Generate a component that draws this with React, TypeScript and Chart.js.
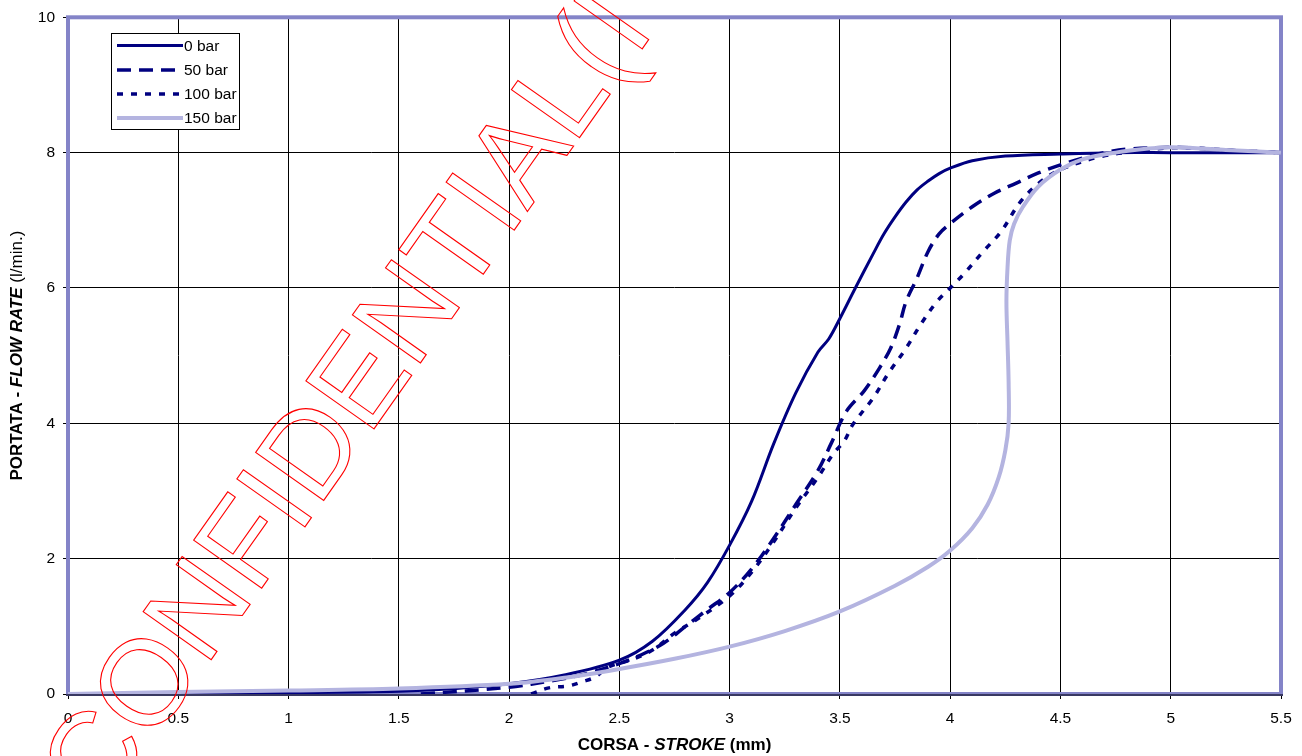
import React, { useEffect, useRef } from "react";
import { Chart, registerables } from "chart.js";

Chart.register(...registerables);

// ---- data ----
const seriesLabels = ["0 bar", "50 bar", "100 bar", "150 bar"];

const x0 = [0.3, 0.5, 1.0, 1.5, 1.75, 2.0, 2.25, 2.5, 2.65, 2.8, 2.9, 3.0, 3.1, 3.2, 3.3, 3.4, 3.45, 3.5, 3.57, 3.65, 3.7, 3.75, 3.8, 3.85, 3.9, 3.95, 4.0, 4.1, 4.25, 4.5, 4.75, 5.0, 5.25, 5.5];
const y0 = [0, 0.01, 0.02, 0.04, 0.08, 0.15, 0.28, 0.5, 0.78, 1.25, 1.65, 2.2, 2.85, 3.7, 4.45, 5.05, 5.25, 5.55, 6.0, 6.5, 6.8, 7.05, 7.27, 7.45, 7.58, 7.69, 7.77, 7.88, 7.95, 7.98, 8.0, 8.0, 8.0, 8.0];

const x50 = [1.6, 2.0, 2.2, 2.35, 2.5, 2.6, 2.7, 2.8, 2.9, 3.0, 3.1, 3.2, 3.3, 3.4, 3.46, 3.53, 3.61, 3.68, 3.73, 3.77, 3.8, 3.85, 3.9, 3.95, 4.0, 4.1, 4.2, 4.3, 4.4, 4.5, 4.6, 4.7, 4.8, 5.0, 5.1, 5.25, 5.5];
const y50 = [0, 0.1, 0.2, 0.3, 0.45, 0.58, 0.75, 1.0, 1.25, 1.5, 1.85, 2.3, 2.8, 3.3, 3.7, 4.18, 4.48, 4.82, 5.11, 5.46, 5.8, 6.15, 6.54, 6.8, 6.95, 7.2, 7.4, 7.55, 7.7, 7.82, 7.92, 8.0, 8.05, 8.08, 8.07, 8.04, 8.0];

const x100 = [2.1, 2.18, 2.27, 2.33, 2.39, 2.45, 2.55, 2.65, 2.75, 2.85, 3.0, 3.1, 3.2, 3.3, 3.4, 3.47, 3.52, 3.56, 3.65, 3.72, 3.8, 3.87, 3.94, 4.0, 4.06, 4.15, 4.23, 4.32, 4.41, 4.5, 4.68, 4.85, 5.0, 5.15, 5.3, 5.5];
const y100 = [0, 0.09, 0.12, 0.18, 0.25, 0.4, 0.5, 0.65, 0.9, 1.1, 1.45, 1.8, 2.25, 2.75, 3.2, 3.55, 3.74, 3.99, 4.37, 4.74, 5.11, 5.48, 5.8, 6.0, 6.2, 6.54, 6.83, 7.28, 7.57, 7.75, 7.94, 8.02, 8.07, 8.06, 8.03, 8.0];

const x150 = [0, 0.5, 1.0, 1.5, 2.0, 2.25, 2.5, 2.75, 3.0, 3.25, 3.5, 3.75, 3.9, 4.0, 4.1, 4.17, 4.22, 4.25, 4.265, 4.265, 4.26, 4.255, 4.26, 4.27, 4.29, 4.33, 4.4, 4.5, 4.6, 4.75, 4.9, 5.0, 5.1, 5.25, 5.5];
const y150 = [0, 0.03, 0.05, 0.08, 0.15, 0.24, 0.37, 0.52, 0.7, 0.93, 1.22, 1.6, 1.88, 2.12, 2.45, 2.8, 3.2, 3.6, 4.0, 4.6, 5.2, 5.8, 6.3, 6.7, 6.95, 7.2, 7.5, 7.75, 7.9, 8.0, 8.06, 8.08, 8.07, 8.04, 8.0];

const watermarkText = "CONFIDENTIAL(I";

const NAVY = "#000080";
const LAV = "#b4b4e0";
const BORDER = "#8484c8";
const FONT = "'Liberation Sans', Arial, sans-serif";

const pts = (xs: number[], ys: number[]) => xs.map((x, i) => ({ x, y: ys[i] }));

const styles = [
  { color: NAVY, width: 3, dash: [] as number[] },
  { color: NAVY, width: 3.5, dash: [14, 8] },
  { color: NAVY, width: 3.5, dash: [6, 8] },
  { color: LAV, width: 4, dash: [] as number[] },
];

const decorPlugin = {
  id: "decor",
  beforeDatasetsDraw(chart: any) {
    const { ctx, chartArea: a } = chart;
    ctx.save();
    ctx.strokeStyle = BORDER;
    ctx.lineWidth = 4;
    ctx.strokeRect(a.left, a.top, a.right - a.left, a.bottom - a.top);
    ctx.strokeStyle = "#202040";
    ctx.lineWidth = 1.5;
    ctx.beginPath();
    ctx.moveTo(a.left - 2, a.bottom + 1);
    ctx.lineTo(a.right + 2, a.bottom + 1);
    ctx.stroke();
    ctx.restore();
  },
  afterDraw(chart: any) {
    const { ctx, chartArea: a } = chart;
    ctx.save();
    // legend
    const lx = 111.5, ly = 33.5, lw = 128, lh = 96;
    ctx.fillStyle = "#fff";
    ctx.fillRect(lx, ly, lw, lh);
    ctx.strokeStyle = "#000";
    ctx.lineWidth = 1;
    ctx.strokeRect(lx, ly, lw, lh);
    const rows = [45.5, 70, 94, 118];
    seriesLabels.forEach((lab, i) => {
      const s = styles[i];
      ctx.strokeStyle = s.color;
      ctx.lineWidth = s.width;
      ctx.setLineDash(s.dash);
      ctx.beginPath();
      ctx.moveTo(117, rows[i]);
      ctx.lineTo(183, rows[i]);
      ctx.stroke();
      ctx.setLineDash([]);
      ctx.fillStyle = "#000";
      ctx.font = `15.5px ${FONT}`;
      ctx.textBaseline = "middle";
      ctx.textAlign = "left";
      ctx.fillText(lab, 184, rows[i] + 1);
    });

    // axis titles
    const drawParts = (parts: { t: string; f: string }[], cx: number, cy: number, rot: number) => {
      ctx.save();
      ctx.translate(cx, cy);
      ctx.rotate(rot);
      let total = 0;
      parts.forEach((p) => {
        ctx.font = p.f;
        total += ctx.measureText(p.t).width;
      });
      let x = -total / 2;
      ctx.fillStyle = "#000";
      ctx.textBaseline = "middle";
      ctx.textAlign = "left";
      parts.forEach((p) => {
        ctx.font = p.f;
        ctx.fillText(p.t, x, 0);
        x += ctx.measureText(p.t).width;
      });
      ctx.restore();
    };
    const cx = (a.left + a.right) / 2;
    const cy = (a.top + a.bottom) / 2;
    drawParts(
      [
        { t: "CORSA - ", f: `bold 17px ${FONT}` },
        { t: "STROKE", f: `italic bold 17px ${FONT}` },
        { t: " (mm)", f: `bold 17px ${FONT}` },
      ],
      cx,
      745,
      0
    );
    drawParts(
      [
        { t: "PORTATA - ", f: `bold 17px ${FONT}` },
        { t: "FLOW RATE", f: `italic bold 17px ${FONT}` },
        { t: " (l/min.)", f: `17px ${FONT}` },
      ],
      17,
      cy,
      -Math.PI / 2
    );

    // watermark
    ctx.save();
    ctx.translate(101, 816);
    ctx.rotate((-54.8 * Math.PI) / 180);
    ctx.font = `121px ${FONT}`;
    ctx.textBaseline = "alphabetic";
    ctx.textAlign = "left";
    ctx.strokeStyle = "#ff0000";
    ctx.lineWidth = 1.1;
    ctx.strokeText(watermarkText, 0, 0);
    ctx.restore();

    ctx.restore();
  },
};

export default function App() {
  const ref = useRef<HTMLCanvasElement | null>(null);
  useEffect(() => {
    if (!ref.current) return;
    const data = [pts(x0, y0), pts(x50, y50), pts(x100, y100), pts(x150, y150)];
    const order = [3, 2, 1, 0];
    const chart = new Chart(ref.current, {
      type: "line",
      data: {
        datasets: data.map((d, i) => ({
          label: seriesLabels[i],
          data: d,
          borderColor: styles[i].color,
          borderWidth: styles[i].width,
          borderDash: styles[i].dash,
          pointRadius: 0,
          tension: 0.35,
          fill: false,
          order: order[i],
          parsing: false,
        })) as any,
      },
      options: {
        animation: false,
        responsive: true,
        maintainAspectRatio: false,
        layout: { padding: { left: 0, top: 15, right: 21, bottom: 0 } },
        plugins: { legend: { display: false }, tooltip: { enabled: false } },
        scales: {
          x: {
            type: "linear",
            min: 0,
            max: 5.5,
            ticks: {
              stepSize: 0.5,
              color: "#000",
              font: { family: FONT, size: 15.5 },
              padding: 10,
              maxRotation: 0,
              callback: (v: any) => `${v}`,
            },
            grid: { color: "#000", lineWidth: 1, tickLength: 5, tickColor: "#000" },
            border: { display: false },
            afterFit: (s: any) => {
              s.height = 62;
            },
          },
          y: {
            type: "linear",
            min: 0,
            max: 10,
            ticks: {
              stepSize: 2,
              color: "#000",
              font: { family: FONT, size: 15.5 },
              padding: 8,
              callback: (v: any) => `${v}`,
            },
            grid: { color: "#000", lineWidth: 1, tickLength: 5, tickColor: "#000" },
            border: { display: false },
            afterFit: (s: any) => {
              s.width = 68;
            },
          },
        },
      },
      plugins: [decorPlugin],
    });
    return () => chart.destroy();
  }, []);
  return (
    <div style={{ position: "fixed", left: 0, top: 0, width: 1302, height: 756, background: "#fff" }}>
      <canvas ref={ref} />
    </div>
  );
}
